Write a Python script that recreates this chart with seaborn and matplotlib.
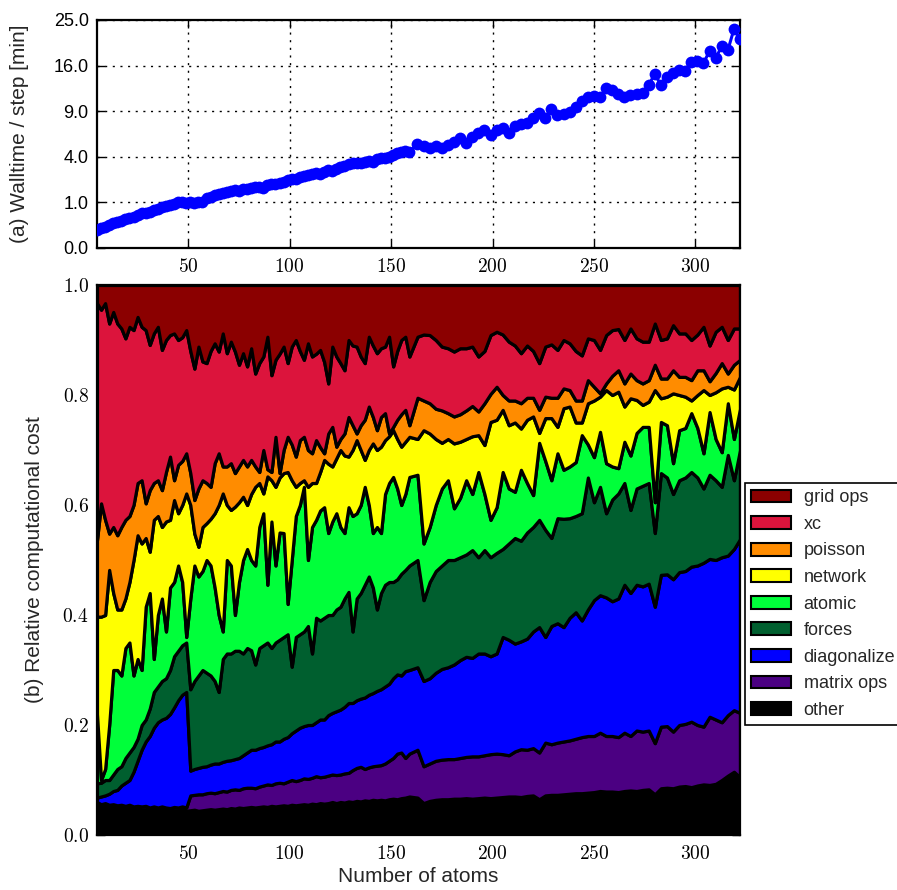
import numpy as np
import matplotlib
matplotlib.use("Agg")
import matplotlib.pyplot as plt
import seaborn as sns
from matplotlib.patches import Patch
from matplotlib.ticker import FixedLocator, FuncFormatter

# ---------------- data ----------------
atoms = np.r_[np.arange(5, 160, 2), np.arange(163, 323, 3)]

walltime = [0.16,0.2,0.22,0.25,0.3,0.33,0.36,0.4,0.43,0.47,
            0.53,0.58,0.6,0.64,0.69,0.74,0.8,0.86,0.9,0.95,
            1.0,1.03,0.98,1.0,0.96,1.02,1.0,1.2,1.27,1.33,
            1.4,1.44,1.5,1.56,1.62,1.55,1.7,1.65,1.72,1.78,
            1.81,1.75,1.92,1.95,2.0,2.05,2.1,2.22,2.3,2.28,
            2.4,2.48,2.55,2.62,2.68,2.6,2.8,2.93,2.85,3.0,
            3.15,3.25,3.4,3.45,3.5,3.45,3.58,3.6,3.55,3.8,
            3.87,3.9,4.0,4.15,4.3,4.4,4.5,4.46,
            5.2,5.0,4.78,5.03,4.8,5.1,5.43,5.78,5.27,5.9,
            6.4,6.7,6.14,6.7,6.88,6.39,7.16,7.39,7.55,8.08,
            8.8,8.08,9.25,8.51,8.63,8.94,9.6,10.43,10.91,11.11,
            10.91,12.27,12.0,11.41,11.0,11.26,11.41,11.5,12.78,14.56,
            12.78,14.0,14.67,15.24,15.13,16.7,16.87,16.4,18.7,17.3,
            19.6,18.8,23.0,21.0]

# cumulative upper boundary of each stacked layer (fraction of total)
top_other = [0.055,0.052,0.054,0.05,0.052,0.049,0.05,0.048,0.05,0.047,
             0.048,0.046,0.047,0.045,0.046,0.044,0.046,0.045,0.043,0.045,
             0.044,0.046,0.044,0.045,0.046,0.044,0.045,0.046,0.047,0.046,
             0.047,0.048,0.047,0.049,0.048,0.05,0.049,0.05,0.051,0.05,
             0.051,0.052,0.051,0.053,0.052,0.053,0.054,0.053,0.055,0.054,
             0.055,0.056,0.055,0.057,0.056,0.058,0.057,0.058,0.06,0.058,
             0.06,0.059,0.061,0.06,0.062,0.061,0.063,0.062,0.064,0.063,
             0.064,0.063,0.065,0.066,0.065,0.067,0.068,0.07,
             0.068,0.058,0.062,0.064,0.065,0.065,0.066,0.066,0.067,0.066,
             0.067,0.068,0.067,0.068,0.069,0.07,0.07,0.069,0.071,0.072,
             0.065,0.072,0.073,0.073,0.074,0.075,0.076,0.076,0.077,0.078,
             0.08,0.079,0.079,0.078,0.08,0.081,0.08,0.082,0.083,0.074,
             0.085,0.086,0.085,0.088,0.089,0.087,0.09,0.092,0.091,0.093,
             0.1,0.108,0.115,0.105]

top_matrix_ops = [0.06,0.056,0.058,0.055,0.056,0.054,0.055,0.053,0.055,0.052,
                  0.053,0.052,0.053,0.05,0.052,0.05,0.052,0.05,0.049,0.051,
                  0.05,0.052,0.05,0.072,0.073,0.074,0.074,0.076,0.077,0.076,
                  0.078,0.08,0.079,0.082,0.083,0.082,0.085,0.086,0.086,0.085,
                  0.088,0.09,0.092,0.091,0.094,0.095,0.094,0.097,0.1,0.098,
                  0.1,0.103,0.102,0.104,0.107,0.105,0.106,0.108,0.11,0.109,
                  0.11,0.112,0.113,0.118,0.122,0.124,0.12,0.123,0.125,0.126,
                  0.127,0.13,0.135,0.14,0.148,0.15,0.14,0.148,
                  0.155,0.125,0.13,0.135,0.137,0.138,0.138,0.14,0.142,0.143,
                  0.143,0.145,0.147,0.148,0.147,0.145,0.152,0.156,0.155,0.158,
                  0.15,0.168,0.165,0.168,0.17,0.172,0.175,0.178,0.18,0.18,
                  0.186,0.18,0.18,0.178,0.186,0.18,0.19,0.188,0.19,0.167,
                  0.197,0.198,0.188,0.2,0.202,0.206,0.2,0.197,0.215,0.21,
                  0.205,0.218,0.227,0.222]

top_diagonalize = [0.068,0.07,0.072,0.075,0.08,0.082,0.09,0.095,0.1,0.115,
                   0.135,0.155,0.17,0.18,0.195,0.205,0.21,0.213,0.22,0.232,
                   0.245,0.255,0.26,0.117,0.12,0.122,0.124,0.125,0.128,0.13,
                   0.13,0.133,0.135,0.136,0.138,0.14,0.145,0.15,0.155,0.155,
                   0.158,0.16,0.163,0.165,0.17,0.17,0.175,0.178,0.185,0.19,
                   0.195,0.198,0.2,0.2,0.205,0.21,0.21,0.218,0.222,0.225,
                   0.228,0.233,0.24,0.24,0.245,0.248,0.25,0.255,0.258,0.262,
                   0.265,0.27,0.275,0.285,0.292,0.29,0.298,0.3,
                   0.305,0.28,0.285,0.295,0.302,0.305,0.31,0.318,0.324,0.322,
                   0.33,0.33,0.325,0.33,0.36,0.355,0.348,0.352,0.357,0.37,
                   0.378,0.36,0.38,0.385,0.378,0.395,0.405,0.39,0.41,0.427,
                   0.436,0.432,0.425,0.43,0.455,0.44,0.455,0.452,0.457,0.415,
                   0.473,0.474,0.465,0.478,0.48,0.488,0.49,0.495,0.502,0.5,
                   0.505,0.508,0.52,0.538]

top_forces = [0.094,0.095,0.1,0.1,0.11,0.12,0.125,0.14,0.15,0.16,
              0.175,0.2,0.21,0.23,0.26,0.27,0.28,0.285,0.3,0.325,
              0.335,0.345,0.35,0.265,0.28,0.29,0.3,0.295,0.29,0.28,
              0.26,0.32,0.33,0.33,0.335,0.335,0.33,0.34,0.336,0.31,
              0.34,0.345,0.35,0.34,0.35,0.355,0.36,0.365,0.306,0.36,
              0.365,0.37,0.38,0.33,0.395,0.39,0.395,0.4,0.4,0.41,
              0.415,0.43,0.442,0.37,0.43,0.44,0.455,0.47,0.45,0.41,
              0.44,0.455,0.46,0.46,0.465,0.475,0.482,0.49,
              0.5,0.427,0.46,0.48,0.49,0.5,0.5,0.505,0.51,0.518,
              0.505,0.518,0.505,0.513,0.52,0.53,0.54,0.535,0.55,0.56,
              0.573,0.555,0.54,0.576,0.575,0.576,0.58,0.585,0.65,0.605,
              0.633,0.585,0.61,0.621,0.64,0.591,0.63,0.635,0.64,0.549,
              0.658,0.65,0.62,0.645,0.65,0.66,0.65,0.63,0.655,0.645,
              0.633,0.691,0.645,0.7]

top_atomic = [0.22,0.1,0.12,0.2,0.3,0.3,0.29,0.34,0.35,0.29,
              0.32,0.3,0.415,0.44,0.32,0.4,0.43,0.37,0.45,0.46,
              0.49,0.46,0.36,0.43,0.49,0.47,0.48,0.5,0.49,0.45,
              0.4,0.37,0.5,0.49,0.4,0.46,0.5,0.52,0.5,0.49,
              0.56,0.585,0.455,0.57,0.49,0.55,0.549,0.42,0.5,0.58,
              0.6,0.633,0.5,0.56,0.573,0.59,0.596,0.549,0.57,0.585,
              0.56,0.549,0.596,0.58,0.585,0.6,0.633,0.6,0.549,0.56,
              0.549,0.62,0.64,0.651,0.63,0.6,0.62,0.651,
              0.655,0.53,0.56,0.6,0.63,0.645,0.594,0.613,0.645,0.62,
              0.66,0.62,0.573,0.596,0.66,0.63,0.624,0.664,0.64,0.618,
              0.713,0.68,0.645,0.694,0.664,0.67,0.678,0.727,0.71,0.687,
              0.733,0.676,0.67,0.667,0.715,0.69,0.731,0.742,0.742,0.605,
              0.751,0.745,0.676,0.736,0.74,0.767,0.74,0.694,0.769,0.72,
              0.696,0.785,0.72,0.775]

top_network = [0.397,0.397,0.4,0.482,0.44,0.41,0.41,0.43,0.46,0.5,
               0.545,0.53,0.54,0.515,0.573,0.58,0.56,0.57,0.573,0.609,
               0.585,0.6,0.621,0.6,0.548,0.524,0.56,0.567,0.575,0.585,
               0.6,0.621,0.6,0.591,0.597,0.605,0.615,0.6,0.62,0.633,
               0.64,0.621,0.652,0.645,0.633,0.65,0.658,0.66,0.645,0.633,
               0.64,0.645,0.633,0.64,0.64,0.66,0.682,0.675,0.67,0.685,
               0.7,0.69,0.688,0.7,0.718,0.7,0.682,0.7,0.712,0.7,
               0.706,0.718,0.725,0.736,0.72,0.706,0.715,0.724,
               0.72,0.736,0.73,0.72,0.713,0.72,0.712,0.715,0.72,0.725,
               0.727,0.709,0.751,0.755,0.773,0.745,0.75,0.739,0.755,0.761,
               0.731,0.758,0.758,0.742,0.776,0.779,0.75,0.75,0.785,0.79,
               0.797,0.809,0.8,0.806,0.779,0.794,0.791,0.782,0.788,0.809,
               0.794,0.797,0.803,0.8,0.797,0.79,0.8,0.809,0.8,0.805,
               0.812,0.815,0.81,0.833]

top_poisson = [0.536,0.603,0.573,0.548,0.56,0.545,0.56,0.573,0.58,0.6,
               0.64,0.645,0.603,0.627,0.64,0.645,0.627,0.66,0.688,0.645,
               0.673,0.68,0.694,0.658,0.609,0.63,0.645,0.64,0.633,0.676,
               0.694,0.67,0.67,0.676,0.658,0.67,0.682,0.67,0.682,0.67,
               0.66,0.7,0.665,0.66,0.724,0.658,0.7,0.724,0.71,0.688,
               0.718,0.724,0.7,0.694,0.718,0.705,0.694,0.73,0.742,0.706,
               0.72,0.73,0.76,0.745,0.73,0.745,0.755,0.779,0.76,0.736,
               0.76,0.767,0.73,0.742,0.755,0.765,0.773,0.745,
               0.795,0.79,0.785,0.775,0.772,0.767,0.761,0.765,0.772,0.78,
               0.77,0.785,0.802,0.815,0.8,0.79,0.79,0.785,0.795,0.795,
               0.773,0.797,0.795,0.795,0.812,0.809,0.79,0.79,0.827,0.815,
               0.803,0.821,0.835,0.845,0.821,0.839,0.827,0.821,0.827,0.855,
               0.83,0.83,0.845,0.833,0.833,0.827,0.845,0.845,0.825,0.84,
               0.858,0.839,0.855,0.864]

top_xc = [0.967,0.955,0.967,0.93,0.951,0.93,0.921,0.903,0.924,0.918,
          0.942,0.924,0.918,0.891,0.912,0.924,0.882,0.9,0.909,0.912,
          0.9,0.905,0.918,0.88,0.848,0.888,0.861,0.858,0.88,0.894,
          0.879,0.912,0.876,0.897,0.879,0.855,0.876,0.852,0.885,0.839,
          0.858,0.87,0.906,0.836,0.864,0.875,0.888,0.858,0.888,0.9,
          0.88,0.864,0.894,0.87,0.875,0.882,0.86,0.821,0.888,0.87,
          0.858,0.845,0.9,0.89,0.888,0.87,0.858,0.906,0.89,0.876,
          0.885,0.888,0.906,0.852,0.88,0.9,0.906,0.87,
          0.906,0.91,0.909,0.9,0.888,0.885,0.879,0.885,0.885,0.888,
          0.87,0.88,0.909,0.915,0.91,0.897,0.89,0.876,0.89,0.88,
          0.858,0.888,0.892,0.882,0.9,0.894,0.88,0.872,0.903,0.9,
          0.882,0.909,0.918,0.92,0.9,0.921,0.903,0.897,0.897,0.93,
          0.9,0.903,0.927,0.912,0.912,0.9,0.91,0.924,0.89,0.915,
          0.924,0.9,0.921,0.921]

layer_names = ["other", "matrix ops", "diagonalize", "forces", "atomic",
               "network", "poisson", "xc", "grid ops"]
layer_colors = ["#000000", "#4B0082", "#0000FF", "#005F2F", "#00FF3A",
                "#FFFF00", "#FF8C00", "#DC143C", "#8B0000"]

wall_ticks = [0.0, 1.0, 4.0, 9.0, 16.0, 25.0]
atom_ticks = [50, 100, 150, 200, 250, 300]
cost_ticks = [0.0, 0.2, 0.4, 0.6, 0.8, 1.0]

# ---------------- style ----------------
sns.set_style("white")
plt.rcParams["font.family"] = ["Liberation Sans", "DejaVu Sans"]
plt.rcParams["mathtext.fontset"] = "cm"

W, H = 897, 890
fig = plt.figure(figsize=(W / 100, H / 100), dpi=100)
L, R = 97, 740
ax1 = fig.add_axes([L / W, 1 - 248 / H, (R - L) / W, 228 / H])
ax2 = fig.add_axes([L / W, 1 - 835 / H, (R - L) / W, 550 / H])

n = len(atoms)
xmin, xmax = atoms[0], atoms[-1]

# ---------------- (a) walltime ----------------
sns.lineplot(x=atoms, y=walltime, ax=ax1, color="#0000FF", lw=2.2,
             marker="o", markersize=8.5, markeredgewidth=0, zorder=3)
ax1.set_yscale("function", functions=(lambda v: np.sqrt(np.clip(v, 0, None)),
                                      lambda v: np.square(v)))
ax1.set_ylim(0, 25)
ax1.set_xlim(xmin, xmax)
ax1.yaxis.set_major_locator(FixedLocator(wall_ticks))
ax1.yaxis.set_major_formatter(FuncFormatter(lambda v, p: f"{v:.1f}"))
ax1.yaxis.set_minor_locator(FixedLocator([]))
ax1.grid(True, color="black", linestyle=(0, (1.5, 4)), lw=1)
ax1.set_ylabel("(a) Walltime / step [min]", fontsize=15)
ax1.yaxis.set_label_coords(-0.105, 0.5)

# ---------------- (b) stacked cost ----------------
tops = np.vstack([top_other, top_matrix_ops, top_diagonalize, top_forces,
                  top_atomic, top_network, top_poisson, top_xc, np.ones(n)])
shares = np.diff(np.vstack([np.zeros(n), tops]), axis=0)
ax2.stackplot(atoms, shares, colors=layer_colors, edgecolor="black",
              linewidth=2.3)
ax2.set_xlim(xmin, xmax)
ax2.set_ylim(0, 1)
ax2.yaxis.set_major_locator(FixedLocator(cost_ticks))
ax2.yaxis.set_major_formatter(FuncFormatter(lambda v, p: f"${v:.1f}$"))
ax2.set_ylabel("(b) Relative computational cost", fontsize=15)
ax2.yaxis.set_label_coords(-0.082, 0.5)
ax2.set_xlabel("Number of atoms", fontsize=15)
ax2.xaxis.set_label_coords(0.5, -0.058)

for ax in (ax1, ax2):
    ax.xaxis.set_major_locator(FixedLocator(atom_ticks))
    ax.xaxis.set_major_formatter(FuncFormatter(lambda v, p: f"${int(v)}$"))
    ax.tick_params(axis="both", which="major", direction="in", length=6,
                   width=1, top=True, right=True, bottom=True, left=True,
                   colors="black")
    ax.tick_params(axis="x", labelsize=14, pad=7)
    ax.tick_params(axis="y", pad=6)
    for s in ax.spines.values():
        s.set_visible(True)
        s.set_color("black")
        s.set_linewidth(1.6)
ax1.tick_params(axis="y", labelsize=13)
ax2.tick_params(axis="y", labelsize=14)

handles = [Patch(facecolor=c, edgecolor="black", lw=1.5, label=nm)
           for nm, c in zip(layer_names[::-1], layer_colors[::-1])]
leg = fig.legend(handles=handles, loc="upper left",
                 bbox_to_anchor=(745 / W, 1 - 483 / H), fontsize=13,
                 frameon=True, fancybox=False, framealpha=1,
                 edgecolor="black", handlelength=2.2, handleheight=0.72,
                 handletextpad=0.7, labelspacing=0.53, borderpad=0.35,
                 borderaxespad=0)
leg.get_frame().set_linewidth(1.2)

fig.savefig("out.png", dpi=100)
